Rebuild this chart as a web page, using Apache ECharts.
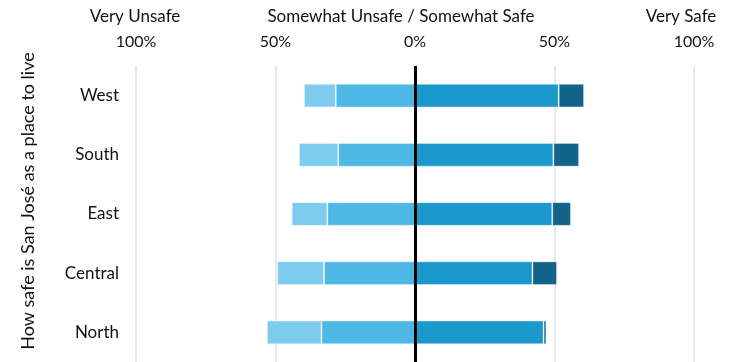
<!DOCTYPE html>
<html><head><meta charset="utf-8">
<script src="https://cdn.jsdelivr.net/npm/echarts@6/dist/echarts.min.js"></script>
<style>html,body{margin:0;padding:0;background:#fff}#c{width:731px;height:362px}</style>
</head><body><div id="c"></div>
<script>
const categories = ['West', 'South', 'East', 'Central', 'North'];
const veryUnsafe = [11.4, 14.1, 12.8, 16.8, 19.6];
const somewhatUnsafe = [28.4, 27.5, 31.4, 32.6, 33.5];
const somewhatSafe = [51.5, 49.6, 49.2, 42.1, 46.1];
const verySafe = [9.1, 9.2, 6.7, 8.8, 1.0];
const headers = ['Very Unsafe', 'Somewhat Unsafe / Somewhat Safe', 'Very Safe'];
const yTitle = 'How safe is San José as a place to live';

const FONT = 'Lato';
const chart = echarts.init(document.getElementById('c'));
const border = {borderColor: 'rgba(255,255,255,0.35)', borderWidth: 1};
function s(name, data, color, neg) {
  return {name, type: 'bar', stack: 'total', barWidth: '40%',
    data: data.map(v => neg ? -v : v),
    itemStyle: Object.assign({color}, border), emphasis: {disabled: true}};
}
const series = [
  s('Somewhat Unsafe', somewhatUnsafe, '#4db8e6', true),
  s('Very Unsafe', veryUnsafe, '#7dcbef', true),
  s('Somewhat Safe', somewhatSafe, '#1b98cc', false),
  s('Very Safe', verySafe, '#12638a', false)
];
series[2].markLine = {silent: true, symbol: 'none', label: {show: false},
  lineStyle: {color: '#000', width: 3, type: 'solid'}, data: [{xAxis: 0}]};
function txt(text, x, y, size, rot) {
  return {type: 'text', x, y, rotation: rot || 0,
    style: {text, font: size + 'px ' + FONT, fill: '#111', align: 'center', verticalAlign: 'middle'}};
}
chart.setOption({
  animation: false,
  grid: {left: 136, right: 37, top: 66, bottom: 0, containLabel: false},
  xAxis: {type: 'value', position: 'top', min: -100, max: 100, interval: 50,
    axisLine: {show: false}, axisTick: {show: false},
    axisLabel: {formatter: v => Math.abs(v) + '%', fontFamily: FONT, fontSize: 16, color: '#111', margin: 16},
    splitLine: {lineStyle: {color: '#e0e0e0', width: 1.5}}},
  yAxis: {type: 'category', data: categories, inverse: true,
    axisLine: {show: false}, axisTick: {show: false},
    axisLabel: {fontFamily: FONT, fontSize: 17, color: '#111', margin: 17}},
  graphic: [
    txt(headers[0], 135, 17, 17),
    txt(headers[1], 401, 17, 17),
    txt(headers[2], 681, 17, 17),
    txt(yTitle, 28, 201, 18, Math.PI / 2)
  ],
  series
});
</script></body></html>
